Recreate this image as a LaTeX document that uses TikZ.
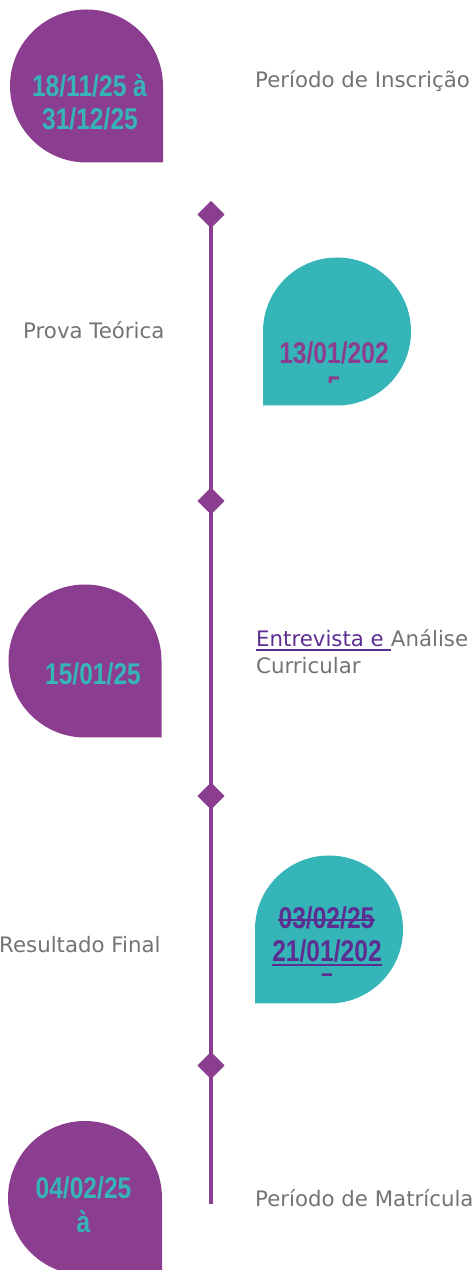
\documentclass[tikz,border=0pt]{standalone}
\usepackage{fontspec}
\setmainfont{DejaVu Sans}
\newfontfamily\datefont[FakeStretch=0.82,UprightFont=* Bold]{Liberation Sans}
\usetikzlibrary{shapes.geometric}
\definecolor{purp}{HTML}{8B3D8F}
\definecolor{teal}{HTML}{35B5B8}
\definecolor{dpurp}{HTML}{5E2D91}
\definecolor{gry}{HTML}{737373}
\tikzset{
  datetext/.style={font=\datefont\fontsize{30}{34}\selectfont, inner sep=0pt, anchor=base},
  lbl/.style={font=\fontsize{21.3}{27}\selectfont, text=gry, inner sep=0pt, anchor=base west},
  mark diamond/.style={diamond, fill=purp, inner sep=0pt, minimum width=27pt, minimum height=27pt},
  timeline/.style={draw=purp, line width=4pt}
}
\begin{document}
\begin{tikzpicture}[x=1pt,y=1pt]
\useasboundingbox (0,0) rectangle (474,1270);
\clip (0,0) rectangle (474,1270);
% drop shapes
\fill[purp] (163,1107.5) -- (86.5,1107.5) arc[start angle=270,end angle=0,radius=76.5] -- cycle;
\fill[teal] (263,864.5) -- (263,938.5) arc[start angle=180,end angle=-90,radius=74] -- cycle;
\fill[purp] (161.5,532.5) -- (85,532.5) arc[start angle=270,end angle=0,radius=76.5] -- cycle;
\fill[teal] (255,266.5) -- (255,340.5) arc[start angle=180,end angle=-90,radius=74] -- cycle;
\fill[purp] (162,-5) -- (85,-5) arc[start angle=270,end angle=0,radius=77] -- cycle;
% timeline
\node[mark diamond] (d1) at (211,1055.5) {};
\node[mark diamond] (d2) at (211,769) {};
\node[mark diamond] (d3) at (211,474) {};
\node[mark diamond] (d4) at (211,204.5) {};
\coordinate (e) at (211,66);
\draw[timeline] (d1.center) -- (d2.center) -- (d3.center) -- (d4.center) -- (e);
\node[mark diamond] at (d1) {};
\node[mark diamond] at (d2) {};
\node[mark diamond] at (d3) {};
\node[mark diamond] at (d4) {};
% dates
\node[datetext, text=teal] (a1) at (89.5,1173) {18/11/25 à};
\node[datetext, text=teal] (a2) at (90,1140) {31/12/25};
\node[datetext, text=purp] (b1) at (334,906) {13/01/202};
\begin{scope}
\clip (250,887) rectangle (420,1000);
\node[datetext, text=purp] (b2) at (334,872) {5};
\end{scope}
\node[datetext, text=teal] (c1) at (93,585) {15/01/25};
\node[datetext, text=dpurp] (f1) at (326.5,341) {03/02/25};
\draw[dpurp, line width=2pt] ([yshift=9pt]f1.base west) -- ([yshift=9pt]f1.base east);
\node[datetext, text=dpurp] (f2) at (327,308) {21/01/202};
\draw[dpurp, line width=2pt] ([yshift=-3pt]f2.base west) -- ([yshift=-3pt]f2.base east);
\begin{scope}
\clip (250,294) rectangle (420,300);
\node[datetext, text=dpurp] (f3) at (327,275) {5};
\end{scope}
\node[datetext, text=teal] (g1) at (83.5,71) {04/02/25};
\node[datetext, text=teal] (g2) at (83.5,37) {à};
% labels
\node[lbl] (t1) at (255,1182) {Período de Inscrição};
\node[lbl] (t2) at (23,931) {Prova Teórica};
\node[lbl, text=dpurp] (t3a) at (256,623) {Entrevista e\ \null};
\draw[dpurp, line width=1.5pt] ([yshift=-3pt]t3a.base west) -- ([yshift=-3pt]t3a.base east);
\node[lbl] (t3b) at (t3a.base east) {Análise};
\node[lbl] (t3c) at (256,596) {Curricular};
\node[lbl] (t4) at (-1,317) {Resultado Final};
\node[lbl] (t5) at (255,63) {Período de Matrícula};
\end{tikzpicture}
\end{document}
